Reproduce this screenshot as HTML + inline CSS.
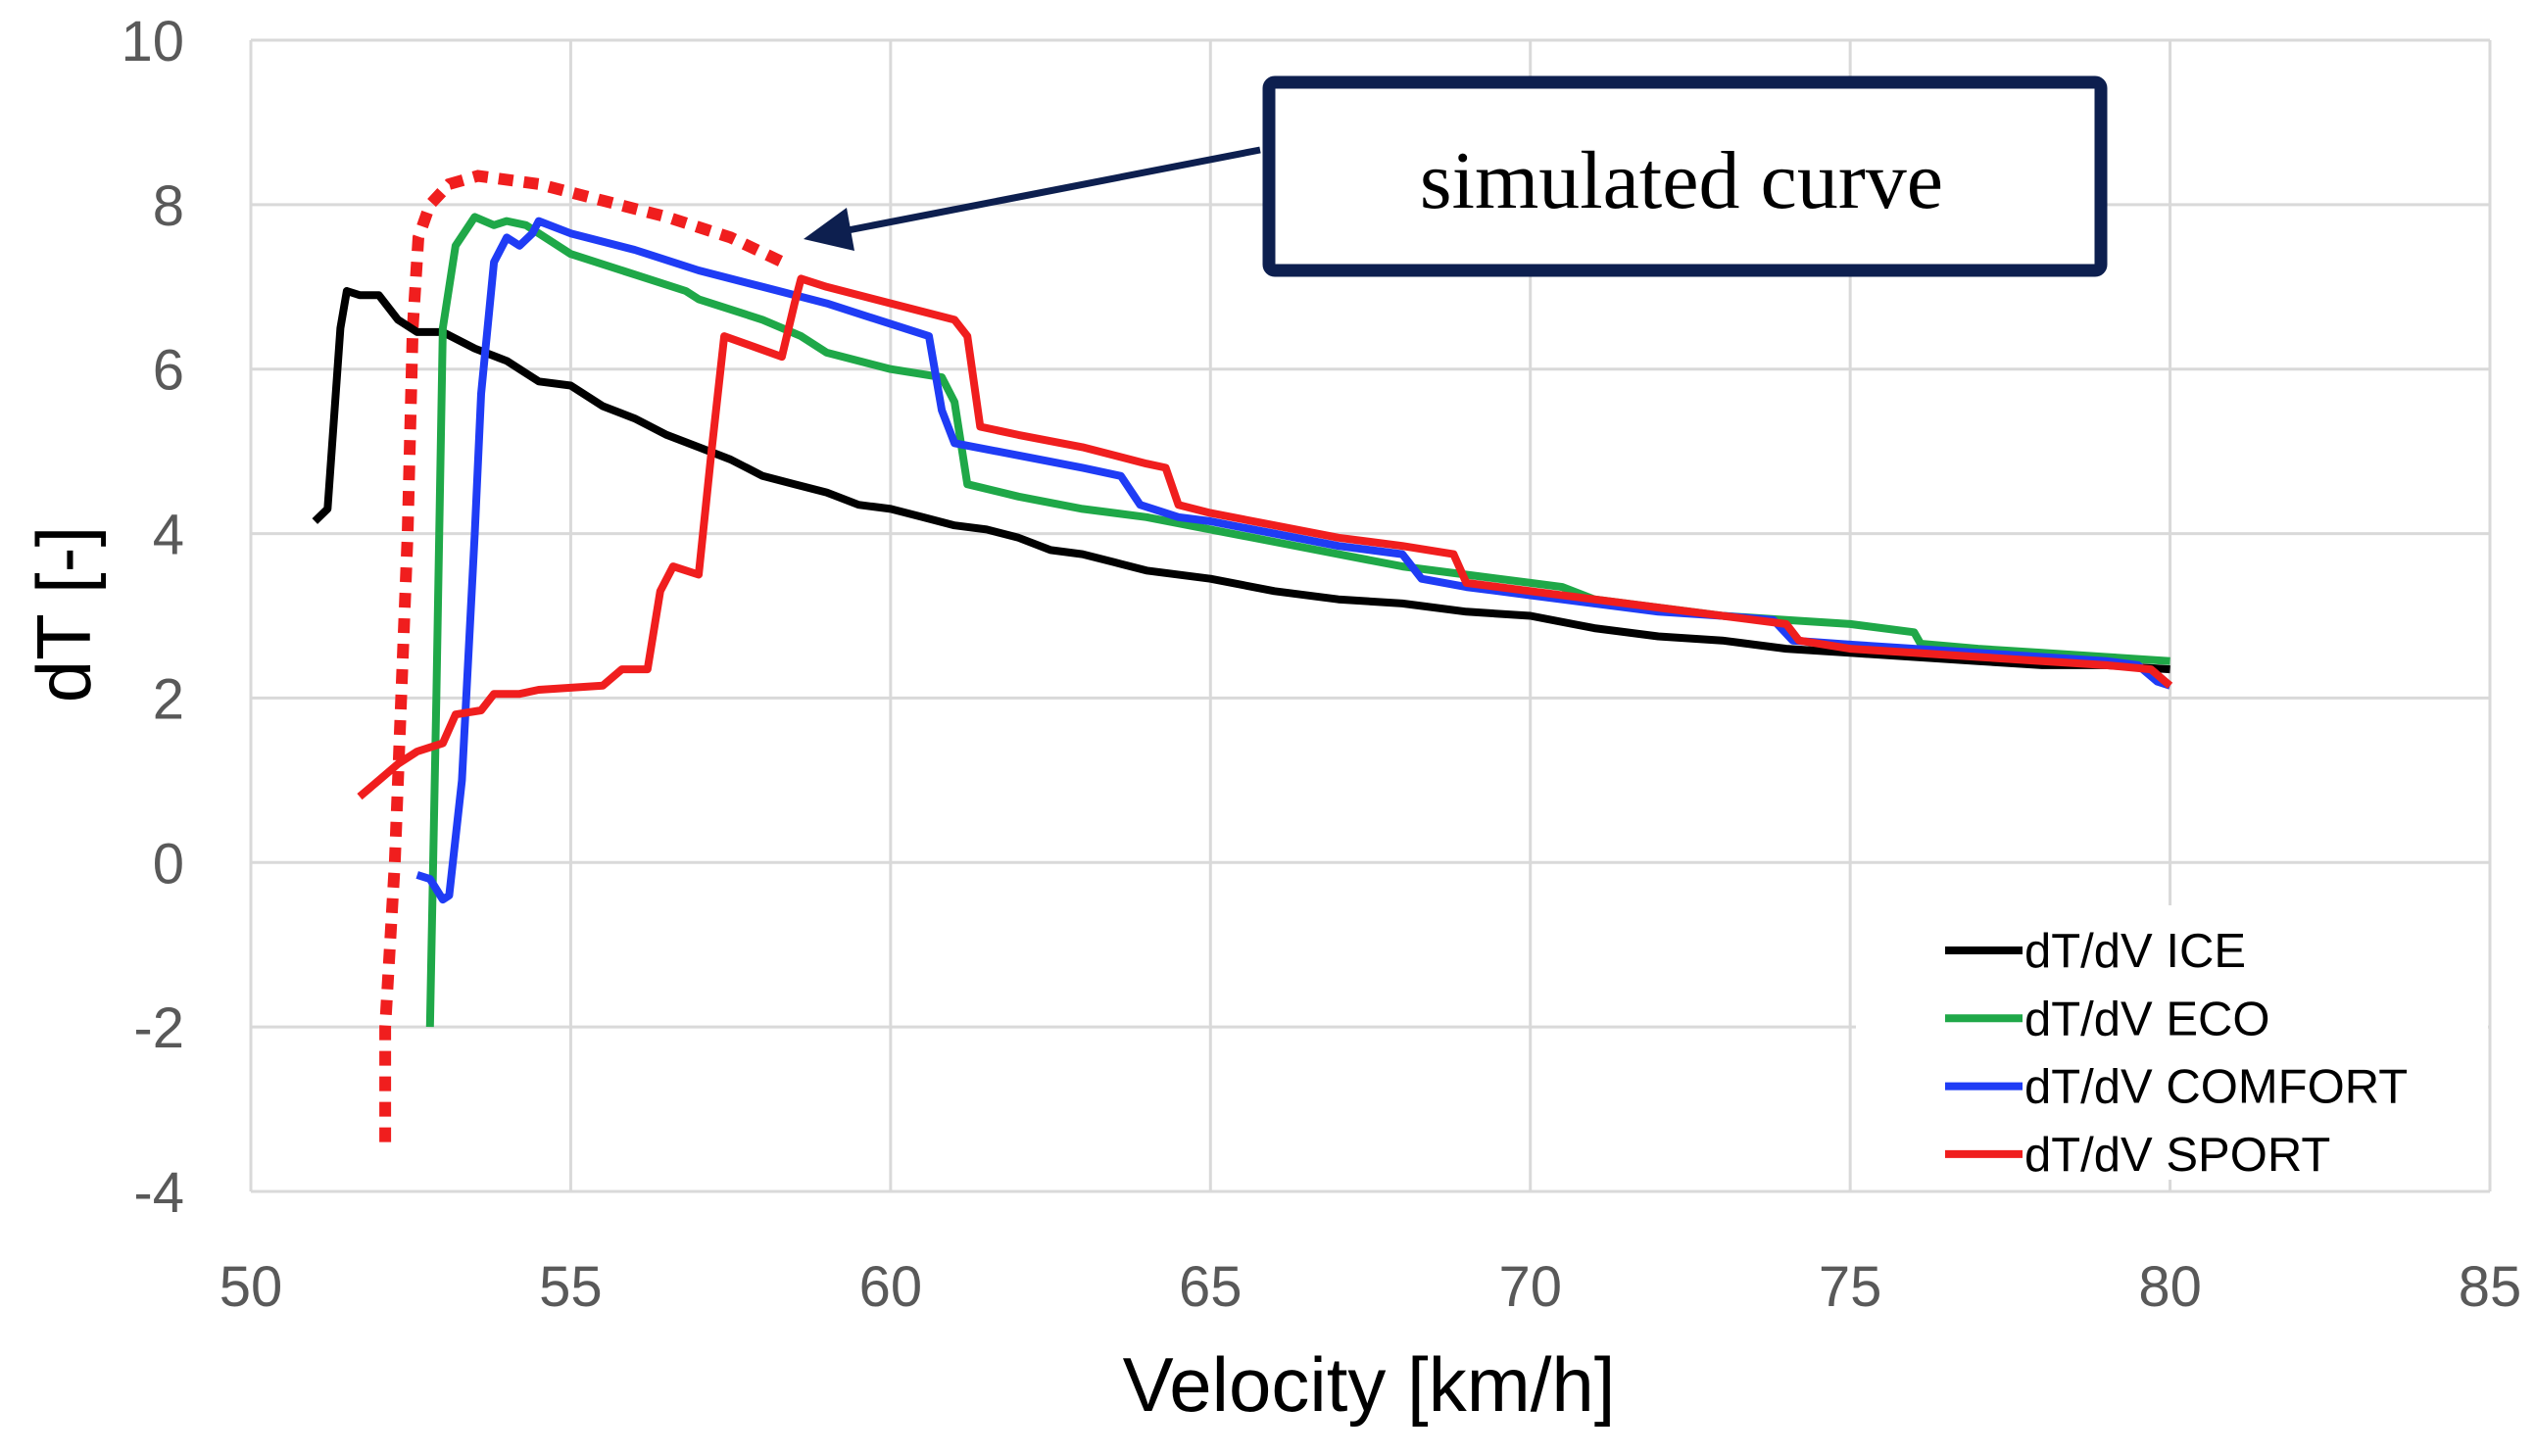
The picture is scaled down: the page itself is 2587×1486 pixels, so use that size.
<!DOCTYPE html>
<html><head><meta charset="utf-8"><style>
html,body{margin:0;padding:0;background:#fff;}
svg{display:block;}
</style></head><body>
<svg id="chart" width="2587" height="1486" viewBox="0 0 2587 1486" xmlns="http://www.w3.org/2000/svg">
<g id="grid"></g>
<g id="ticks" font-family="Liberation Sans, sans-serif" font-size="58" fill="#595959"></g>
<g id="series"></g>
<text x="0" y="0" transform="translate(92,627) rotate(-90)" text-anchor="middle" font-family="Liberation Sans, sans-serif" font-size="78" fill="#000">dT [-]</text>
<text x="1397" y="1440" text-anchor="middle" font-family="Liberation Sans, sans-serif" font-size="78" fill="#000">Velocity [km/h]</text>
<g>
<line x1="1286" y1="153" x2="855" y2="237" stroke="#0d1f4f" stroke-width="7"/>
<polygon points="820,244 864,212 872,256" fill="#0d1f4f"/>
<rect x="1295" y="84" width="849" height="192" rx="6" fill="#fff" stroke="#0d1f4f" stroke-width="13"/>
<text x="1716" y="212" text-anchor="middle" font-family="Liberation Serif, serif" font-size="84" fill="#000">simulated curve</text>
</g>
<g id="legend" font-family="Liberation Sans, sans-serif" font-size="49" fill="#000"></g>
</svg>
<script>
const xTicks=[50,55,60,65,70,75,80,85];
const yTicks=[-4,-2,0,2,4,6,8,10];
const seriesNames=["dT/dV ICE","dT/dV ECO","dT/dV COMFORT","dT/dV SPORT"];
const seriesColors=["#000000","#1fa848","#1f3cf5","#f01e1e"];
const iceX=[51.0,51.2,51.4,51.5,51.7,52.0,52.3,52.6,53.0,53.5,54.0,54.5,55.0,55.5,56.0,56.5,57.0,57.5,58.0,58.5,59.0,59.5,60.0,60.5,61.0,61.5,62.0,62.5,63.0,63.5,64,65,66,67,68,69,70,71,72,73,74,75,76,77,78,79,80];
const iceY=[4.15,4.3,6.5,6.95,6.9,6.9,6.6,6.45,6.45,6.25,6.1,5.85,5.8,5.55,5.4,5.2,5.05,4.9,4.7,4.6,4.5,4.35,4.3,4.2,4.1,4.05,3.95,3.8,3.75,3.65,3.55,3.45,3.3,3.2,3.15,3.05,3.0,2.85,2.75,2.7,2.6,2.55,2.5,2.45,2.4,2.4,2.35];
const ecoX=[52.8,52.9,53.0,53.2,53.5,53.8,54.0,54.3,54.6,55.0,56,56.8,57,58,58.6,59,60,60.8,61.0,61.2,62,63,64,65,66,67,68,69,70,70.5,71,72,73,74,75,76,76.1,77,78,79,80];
const ecoY=[-2.0,2,6.5,7.5,7.85,7.75,7.8,7.75,7.6,7.4,7.15,6.95,6.85,6.6,6.4,6.2,6.0,5.9,5.6,4.6,4.45,4.3,4.2,4.05,3.9,3.75,3.6,3.5,3.4,3.35,3.2,3.1,3.0,2.95,2.9,2.8,2.66,2.6,2.55,2.5,2.45];
const comfortX=[52.6,52.8,53.0,53.1,53.3,53.5,53.6,53.8,54.0,54.2,54.4,54.5,55,55.5,56,57,58,59,60,60.6,60.8,61.0,62,63,63.6,63.9,64.5,65,66,67,68,68.3,69,70,71,72,73,73.8,74.1,75,76,77,78,79,79.5,79.8,80];
const comfortY=[-0.15,-0.2,-0.45,-0.4,1,4,5.7,7.3,7.6,7.5,7.65,7.8,7.65,7.55,7.45,7.2,7.0,6.8,6.55,6.4,5.5,5.1,4.95,4.8,4.7,4.35,4.2,4.15,4.0,3.85,3.75,3.45,3.35,3.25,3.15,3.05,3.0,2.95,2.7,2.65,2.6,2.55,2.5,2.45,2.4,2.2,2.15];
const sportX=[51.7,52.0,52.3,52.6,53.0,53.2,53.6,53.8,54.2,54.5,55.5,55.8,56.2,56.4,56.6,57.0,57.2,57.4,58.3,58.5,58.6,59,60,61,61.2,61.4,62,63,64,64.3,64.5,65,66,67,68,68.8,69,70,71,72,73,74,74.2,75,76,77,78,79,79.7,80];
const sportY=[0.8,1.0,1.2,1.35,1.45,1.8,1.85,2.05,2.05,2.1,2.15,2.35,2.35,3.3,3.6,3.5,5.0,6.4,6.15,6.8,7.1,7.0,6.8,6.6,6.4,5.3,5.2,5.05,4.85,4.8,4.35,4.25,4.1,3.95,3.85,3.75,3.4,3.3,3.2,3.1,3.0,2.9,2.7,2.6,2.55,2.5,2.45,2.4,2.35,2.15];
const simX=[52.1,52.1,52.25,52.35,52.45,52.53,52.62,52.8,53.1,53.55,54.5,55.5,56.5,57.5,58.37];
const simY=[-3.4,-2,0,2,4,6.5,7.6,8.0,8.25,8.35,8.25,8.05,7.85,7.6,7.28];

const X0=256,X1=2541,YTOP=41,YBOT=1216;
const sx=v=>X0+(v-50)*(X1-X0)/35;
const sy=v=>YBOT-(v+4)*(YBOT-YTOP)/14;
const NS='http://www.w3.org/2000/svg';
function mk(tag,parent){const e=document.createElementNS(NS,tag);parent.appendChild(e);return e;}
const grid=document.getElementById('grid'),ticks=document.getElementById('ticks'),series=document.getElementById('series'),legend=document.getElementById('legend');
xTicks.forEach(t=>{
  const l=mk('line',grid);
  
  
  l.setAttribute('x1',sx(t));l.setAttribute('x2',sx(t));l.setAttribute('y1',sy(10));l.setAttribute('y2',sy(-4));
  l.setAttribute('stroke','#d9d9d9');l.setAttribute('stroke-width','3');
  const tx=mk('text',ticks);
  
  
  tx.setAttribute('x',sx(t));tx.setAttribute('y',1333);tx.setAttribute('text-anchor','middle');tx.textContent=t;
});
yTicks.forEach(t=>{
  const l=mk('line',grid);
  
  
  l.setAttribute('x1',X0);l.setAttribute('x2',X1);l.setAttribute('y1',sy(t));l.setAttribute('y2',sy(t));
  l.setAttribute('stroke','#d9d9d9');l.setAttribute('stroke-width','3');
  const tx=mk('text',ticks);
  
  
  tx.setAttribute('x',188);tx.setAttribute('y',sy(t)+21);tx.setAttribute('text-anchor','end');tx.textContent=t;
});
const lb=mk('rect',grid);


lb.setAttribute('x',1894);lb.setAttribute('y',924);lb.setAttribute('width',X1-2-1894);lb.setAttribute('height',280);lb.setAttribute('fill','#fff');
const allX=[iceX,ecoX,comfortX,sportX],allY=[iceY,ecoY,comfortY,sportY];
const pts=(xs,ys)=>xs.map((x,i)=>sx(x).toFixed(1)+','+sy(ys[i]).toFixed(1)).join(' ');
const sim=mk('polyline',series);


sim.setAttribute('points',pts(simX,simY));sim.setAttribute('fill','none');sim.setAttribute('stroke','#f01e1e');sim.setAttribute('stroke-width','12');sim.setAttribute('stroke-dasharray','15 11');
[0,1,2,3].forEach(i=>{
  const p=mk('polyline',series);
  
  
  p.setAttribute('points',pts(allX[i],allY[i]));p.setAttribute('fill','none');p.setAttribute('stroke',seriesColors[i]);p.setAttribute('stroke-width','8');p.setAttribute('stroke-linejoin','round');
  const ly=970+i*69.3;
  const ll=mk('line',legend);
  
  
  ll.setAttribute('x1',1985);ll.setAttribute('x2',2064);ll.setAttribute('y1',ly);ll.setAttribute('y2',ly);ll.setAttribute('stroke',seriesColors[i]);ll.setAttribute('stroke-width','8');
  const lt=mk('text',legend);
  
  
  lt.setAttribute('x',2066);lt.setAttribute('y',ly+17);lt.textContent=seriesNames[i];
});
</script>
</body></html>
